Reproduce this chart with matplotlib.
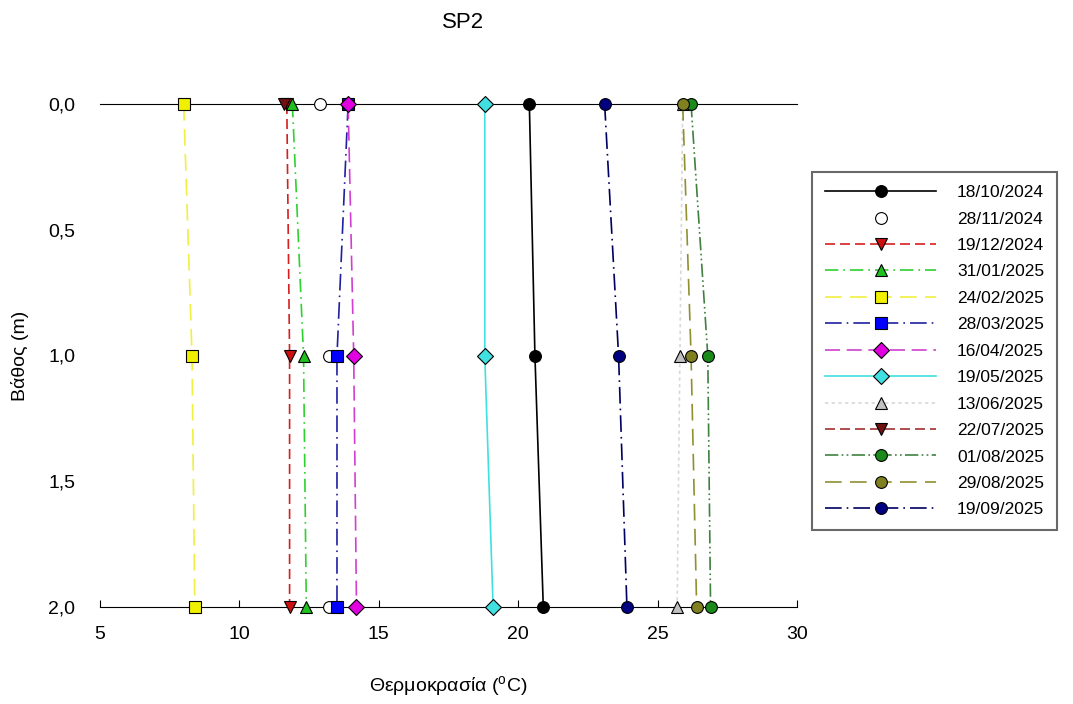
import numpy as np
import matplotlib
matplotlib.use("Agg")
import matplotlib.pyplot as plt

plt.rcParams['font.family'] = ['Liberation Sans', 'DejaVu Sans']
plt.rcParams['mathtext.fontset'] = 'custom'
plt.rcParams['mathtext.rm'] = 'Liberation Sans'

# datos: profundidad (m) y temperatura (oC) por fecha
DEPTHS = [0.0, 1.0, 2.0]

DATES = ["18/10/2024", "28/11/2024", "19/12/2024", "31/01/2025", "24/02/2025",
         "28/03/2025", "16/04/2025", "19/05/2025", "13/06/2025", "22/07/2025",
         "01/08/2025", "29/08/2025", "19/09/2025"]

t_18_10_2024 = [20.4, 20.6, 20.9]
t_28_11_2024 = [12.9, 13.2, 13.2]
t_19_12_2024 = [11.7, 11.8, 11.8]
t_31_01_2025 = [11.9, 12.3, 12.4]
t_24_02_2025 = [8.0, 8.3, 8.4]
t_28_03_2025 = [13.9, 13.5, 13.5]
t_16_04_2025 = [13.9, 14.1, 14.2]
t_19_05_2025 = [18.8, 18.8, 19.1]
t_13_06_2025 = [25.9, 25.8, 25.7]
t_22_07_2025 = [11.6]
t_01_08_2025 = [26.2, 26.8, 26.9]
t_29_08_2025 = [25.9, 26.2, 26.4]
t_19_09_2025 = [23.1, 23.6, 23.9]

TEMPS = [t_18_10_2024, t_28_11_2024, t_19_12_2024, t_31_01_2025, t_24_02_2025,
         t_28_03_2025, t_16_04_2025, t_19_05_2025, t_13_06_2025, t_22_07_2025,
         t_01_08_2025, t_29_08_2025, t_19_09_2025]

# estilo: (color linea, marcador, color marcador, linestyle)
STYLES = [
    ("black", "o", "black", "-"),
    ("none", "o", "white", "none"),
    ("#d62020", "v", "#cc1010", (0, (6, 3))),
    ("#30d030", "^", "#20c020", (0, (8, 3, 1, 3))),
    ("#f0f040", "s", "#f0f000", (0, (10, 5))),
    ("#2020a0", "s", "#0000ff", (0, (10, 3, 1, 3))),
    ("#d040d0", "D", "#e000e0", (0, (9, 4))),
    ("#40e0e0", "D", "#40e0e0", "-"),
    ("#d8d8d8", "^", "#c0c0c0", (0, (2, 2))),
    ("#a03030", "v", "#701010", (0, (6, 3))),
    ("#408040", "o", "#1a8a1a", (0, (8, 2, 1, 2, 1, 2))),
    ("#909030", "o", "#808020", (0, (10, 5))),
    ("#000060", "o", "#000080", (0, (10, 3, 1, 3))),
]

fig = plt.figure(figsize=(10.73, 7.04), dpi=100)
ax = fig.add_axes([100 / 1073, 1 - 607 / 704, 697 / 1073, 503 / 704])

for date, temps, (lc, mk, mc, ls) in zip(DATES, TEMPS, STYLES):
    ax.plot(temps, DEPTHS[:len(temps)], color=lc, linestyle=ls, linewidth=1.2,
            marker=mk, markersize=8.5, markerfacecolor=mc, markeredgecolor="black",
            markeredgewidth=0.8, label=date, clip_on=False, zorder=3)

ax.set_xlim(5, 30)
ax.set_ylim(2.0, 0.0)
ax.set_xticks([5, 10, 15, 20, 25, 30])
ax.set_yticks([0.0, 0.5, 1.0, 1.5, 2.0])
ax.set_yticklabels(["0,0", "0,5", "1,0", "1,5", "2,0"])
ax.spines['left'].set_visible(False)
ax.spines['right'].set_visible(False)
ax.tick_params(axis='both', labelsize=14, direction='in', length=5)
ax.tick_params(axis='x', top=False, pad=14)
ax.tick_params(axis='y', length=0, pad=18)

ax.set_xlabel(r"Θερμοκρασία ($^{\rm o}$C)", fontsize=14, labelpad=22)
ax.set_ylabel("Βάθος (m)", fontsize=14)
ax.yaxis.set_label_coords(-0.102, 0.5)
fig.text(463 / 1073, 1 - 23 / 704, "SP2", fontsize=16, ha='center', va='center')

leg = ax.legend(loc='upper left', bbox_to_anchor=(812 / 1073, 1 - 172 / 704),
                bbox_transform=fig.transFigure, fontsize=12.5, frameon=True,
                fancybox=False, edgecolor='#444444', handlelength=6.4,
                handletextpad=1.2, labelspacing=0.65, borderpad=0.75,
                borderaxespad=0)
leg.get_frame().set_linewidth(1.5)

fig.savefig("out.png", dpi=100)
